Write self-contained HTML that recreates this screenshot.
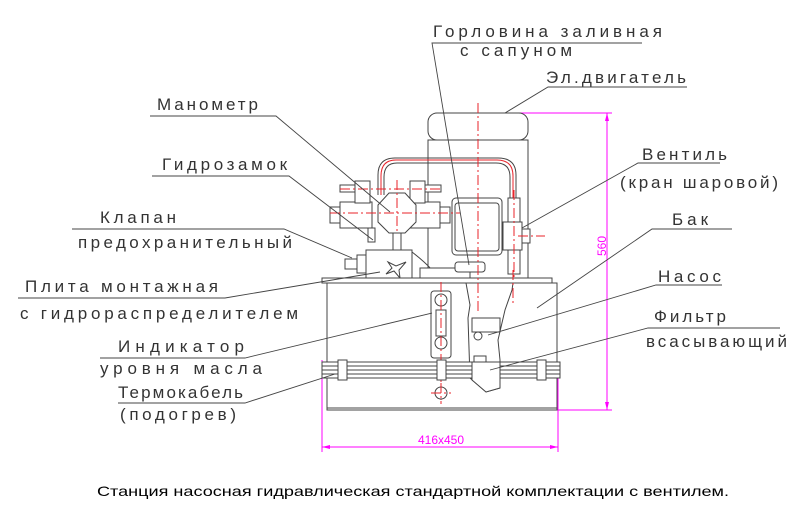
<!DOCTYPE html>
<html><head><meta charset="utf-8">
<style>
html,body{margin:0;padding:0;background:#fff;}
svg{display:block;}
.t{font-family:"Liberation Sans","DejaVu Sans",sans-serif;font-size:17px;fill:#333;}
.k{stroke:#444;stroke-width:1;fill:none;}
.kf{stroke:#444;stroke-width:1;fill:#fff;}
.r{stroke:#e8232a;stroke-width:1;fill:none;stroke-dasharray:10,3,2,3;}
.m{stroke:#ff00ff;stroke-width:1;fill:none;}
.l{stroke:#444;stroke-width:0.9;fill:none;}
</style></head>
<body>
<svg width="800" height="514" viewBox="0 0 800 514" xmlns="http://www.w3.org/2000/svg">
<!-- labels -->
<g class="t">
<text x="433" y="37" textLength="229" lengthAdjust="spacing">Горловина заливная</text>
<text x="460" y="56" textLength="112" lengthAdjust="spacing">с сапуном</text>
<text x="546" y="83" textLength="140" lengthAdjust="spacing">Эл.двигатель</text>
<text x="157" y="110" textLength="101" lengthAdjust="spacing">Манометр</text>
<text x="162" y="170" textLength="125" lengthAdjust="spacing">Гидрозамок</text>
<text x="100" y="223" textLength="76" lengthAdjust="spacing">Клапан</text>
<text x="78" y="248" textLength="214" lengthAdjust="spacing">предохранительный</text>
<text x="25" y="292" textLength="193" lengthAdjust="spacing">Плита монтажная</text>
<text x="20" y="319" textLength="278" lengthAdjust="spacing">с гидрораспределителем</text>
<text x="118" y="352" textLength="126" lengthAdjust="spacing">Индикатор</text>
<text x="100" y="374" textLength="162" lengthAdjust="spacing">уровня масла</text>
<text x="118" y="398" textLength="125" lengthAdjust="spacing">Термокабель</text>
<text x="120" y="420" textLength="116" lengthAdjust="spacing">(подогрев)</text>
<text x="642" y="160" textLength="85" lengthAdjust="spacing">Вентиль</text>
<text x="620" y="188" textLength="158" lengthAdjust="spacing">(кран шаровой)</text>
<text x="672" y="225" textLength="36" lengthAdjust="spacing">Бак</text>
<text x="658" y="282" textLength="63" lengthAdjust="spacing">Насос</text>
<text x="654" y="322" textLength="72" lengthAdjust="spacing">Фильтр</text>
<text x="646" y="347" textLength="141" lengthAdjust="spacing">всасывающий</text>
</g>
<!-- magenta dims -->
<g class="m">
<line x1="517" y1="113" x2="612" y2="113"/>
<line x1="557" y1="410" x2="612" y2="410"/>
<line x1="607" y1="113" x2="607" y2="410"/>
<line x1="322" y1="360" x2="322" y2="452"/>
<line x1="558" y1="378" x2="558" y2="452"/>
<line x1="322" y1="447" x2="558" y2="447"/>
</g>
<g fill="#ff00ff">
<polygon points="607,113 605,121 609,121"/>
<polygon points="607,410 605,402 609,402"/>
<polygon points="322,447 330,445 330,449"/>
<polygon points="558,447 550,445 550,449"/>
<text x="441" y="444" font-family="Liberation Sans,sans-serif" font-size="12" text-anchor="middle">416x450</text>
<text transform="translate(606,246) rotate(-90)" font-family="Liberation Sans,sans-serif" font-size="12" text-anchor="middle">560</text>
</g>
<!-- drawing -->
<g>
<rect class="kf" x="428" y="113" width="100" height="27" rx="9"/>
<rect class="kf" x="428" y="140" width="100" height="138"/>
<path class="k" d="M378,195 V175 Q378,158 395,158 H498 Q516,158 516,175 V200"/>
<path class="k" d="M384,195 V177 Q384,163 397,163 H496 Q510,163 510,177 V200"/>
<path d="M381,195 V176 Q381,160 396,160 H497 Q513,160 513,176 V200" stroke="#e8232a" fill="none" stroke-width="1"/>
<rect class="kf" x="452" y="198" width="50" height="57" rx="4"/>
<rect class="k" x="455" y="203" width="44" height="48" rx="3"/>
<rect class="kf" x="508" y="198" width="12" height="24"/>
<rect class="kf" x="503" y="222" width="19" height="28"/>
<rect class="kf" x="522" y="229" width="8" height="14"/>
<rect class="kf" x="508" y="250" width="12" height="24"/>
<line class="r" x1="514" y1="190" x2="514" y2="300"/>
<line class="r" x1="518" y1="236" x2="545" y2="236"/>
<rect class="kf" x="330" y="207" width="12" height="16"/>
<rect class="kf" x="340" y="202" width="32" height="26"/>
<rect class="kf" x="340" y="185" width="16" height="7"/>
<rect class="kf" x="355" y="181" width="15" height="22"/>
<rect class="kf" x="404" y="202" width="36" height="26"/>
<rect class="kf" x="425" y="185" width="16" height="7"/>
<rect class="kf" x="410" y="181" width="15" height="22"/>
<rect class="kf" x="440" y="207" width="10" height="16"/>
<polygon class="kf" points="389,193 405,193 416,205 416,222 405,233 389,233 378,222 378,205"/>
<line class="r" x1="330" y1="213" x2="460" y2="213"/>
<line class="r" x1="340" y1="189" x2="440" y2="189"/>
<line class="r" x1="397" y1="180" x2="397" y2="250"/>
<rect class="kf" x="368" y="228" width="7" height="14"/>
<rect class="kf" x="393" y="233" width="8" height="17"/>
<rect class="kf" x="345" y="259" width="12" height="10"/>
<rect class="kf" x="357" y="255" width="10" height="18"/>
<rect class="kf" x="366" y="250" width="46" height="28"/>
<path class="k" d="M388,262 L396,266 L406,262 L399,270 L400,278 L394,271 L386,274 L392,268 Z"/>
<path class="k" d="M412,252 Q425,262 432,270"/>
<rect class="kf" x="420" y="268" width="50" height="10"/>
<rect class="kf" x="455" y="262" width="30" height="10" rx="3"/>
<rect class="kf" x="322" y="278" width="230" height="5"/>
<rect class="kf" x="327" y="283" width="230" height="127"/>
<line class="k" x1="327" y1="408" x2="557" y2="408"/>
<rect class="kf" x="431" y="291" width="20" height="67" rx="3"/>
<rect class="k" x="436" y="310" width="10" height="26"/>
<circle class="kf" cx="441" cy="300" r="6"/>
<circle class="kf" cx="441" cy="343" r="6"/>
<line class="r" x1="441" y1="282" x2="441" y2="400"/>
<path class="kf" d="M466,283 L470,305 L468,318 L470,378 L486,392 L500,388 L500,360 L498,340 L505,310 L512,290 L513,283 Z"/>
<rect class="kf" x="472" y="318" width="28" height="14"/>
<circle class="kf" cx="478" cy="336" r="4"/>
<rect class="kf" x="474" y="356" width="12" height="8"/>
<line class="r" x1="478" y1="103" x2="478" y2="312"/>
<line class="r" x1="513" y1="270" x2="513" y2="305"/>
<rect class="kf" x="322" y="362" width="238" height="16"/>
<line class="k" x1="322" y1="366" x2="560" y2="366"/>
<line class="k" x1="322" y1="370" x2="560" y2="370"/>
<line class="k" x1="322" y1="374" x2="560" y2="374"/>
<rect class="kf" x="338" y="360" width="9" height="20"/>
<rect class="kf" x="437" y="360" width="9" height="20"/>
<rect class="kf" x="537" y="360" width="9" height="20"/>
<path class="kf" d="M472,362 L500,362 L500,388 L486,392 L472,380 Z"/>
<circle class="kf" cx="441" cy="393" r="6"/>
<line class="r" x1="441" y1="383" x2="441" y2="404"/>
<line class="r" x1="431" y1="393" x2="451" y2="393"/>
</g>
<!-- leaders (on top) -->
<g class="l">
<polyline points="642,43 432,43 469,265"/>
<polyline points="687,87 548,87 505,113"/>
<polyline points="150,116 276,116 390,212"/>
<polyline points="152,176 289,176 373,240"/>
<polyline points="72,229 284,229 352,258"/>
<polyline points="18,298 225,298 380,272"/>
<polyline points="100,358 245,358 432,313"/>
<polyline points="118,403 245,403 335,374"/>
<polyline points="720,163 638,163 522,228"/>
<polyline points="732,229 652,229 537,308"/>
<polyline points="722,285 656,285 488,335"/>
<polyline points="780,328 648,328 490,370"/>
</g>
<text x="413" y="496" font-family="Liberation Sans,Arial,sans-serif" font-size="14" fill="#000" text-anchor="middle" textLength="632" lengthAdjust="spacingAndGlyphs">Станция насосная гидравлическая стандартной комплектации с вентилем.</text>
</svg>
</body></html>
